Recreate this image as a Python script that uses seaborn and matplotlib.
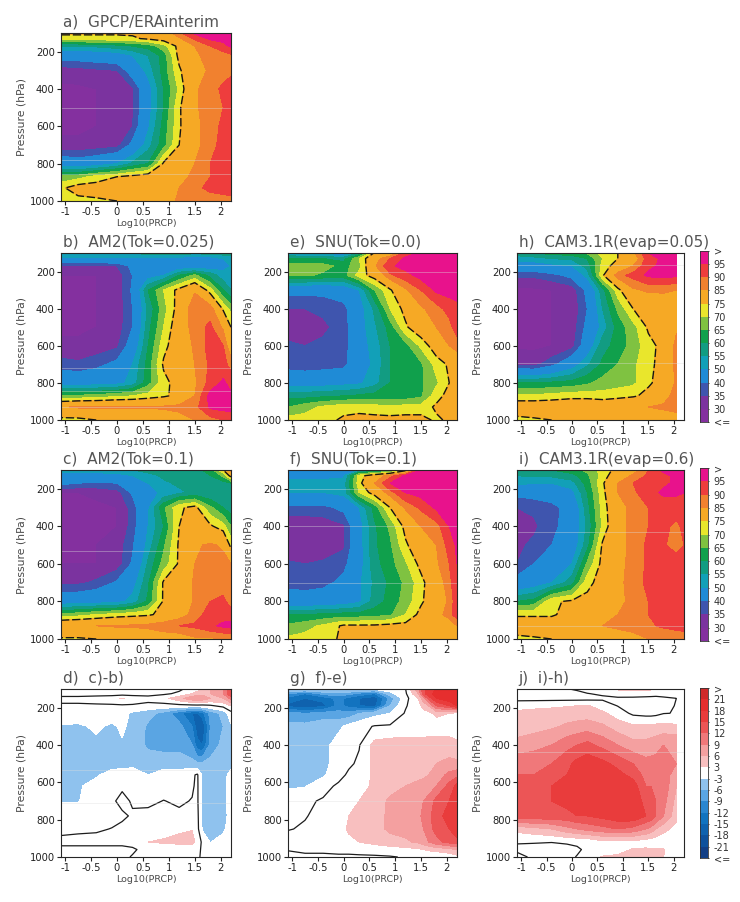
import numpy as np
import matplotlib
matplotlib.use("Agg")
import matplotlib.pyplot as plt
from matplotlib.colors import ListedColormap
import seaborn as sns

# grid of the rh panels
PRCP = [-1.08, -0.75, -0.4, 0.0, 0.3, 0.6, 0.9, 1.2, 1.5, 1.8, 2.05, 2.2]
PRES = [100, 130, 170, 220, 300, 400, 500, 600, 700, 800, 870, 930, 1000]
# grid of the difference panels
PRCP_D = [-1.08, -0.75, -0.4, -0.1, 0.1, 0.3, 0.6, 0.9, 1.2, 1.45, 1.55, 1.65, 1.8, 2.05, 2.2]
PRES_D = [100, 125, 150, 190, 230, 300, 400, 500, 560, 620, 700, 780, 850, 920, 960, 1000]

RH_A = [
    [76, 76, 76, 76, 76, 77, 80, 89, 96, 97, 97, 97],
    [73, 73, 73, 73, 74, 76, 78, 84, 91, 96, 97, 97],
    [55, 55, 56, 58, 60, 62, 68, 77, 85, 90, 93, 96],
    [44, 44, 45, 46, 50, 55, 62, 77, 84, 87, 88, 89],
    [32, 33, 34, 35, 44, 52, 62, 74, 82, 86, 88, 89],
    [29, 29, 30, 31, 34, 47, 60, 71, 84, 88, 91, 92],
    [29, 29, 30, 31, 34, 47, 60, 74, 84, 88, 90, 92],
    [29, 29, 30, 31, 35, 49, 62, 74, 83, 88, 91, 92],
    [31, 31, 32, 33, 42, 53, 63, 75, 83, 88, 92, 93],
    [46, 44, 46, 50, 56, 60, 76, 79, 85, 90, 92, 93],
    [66, 68, 72, 75, 77, 79, 80, 82, 87, 90, 92, 92],
    [74, 78, 78, 79, 79, 80, 82, 85, 89, 91, 92, 93],
    [72, 73, 74, 75, 76, 78, 82, 86, 87, 88, 88, 88],
]
RH_B = [
    [56, 56, 56, 56, 56, 57, 57, 57, 57, 57, 58, 58],
    [48, 48, 48, 48, 48, 48, 48, 48, 45, 47, 50, 52],
    [34, 34, 34, 35, 42, 44, 45, 45, 43, 46, 48, 50],
    [30, 30, 30, 32, 40, 47, 50, 60, 66, 58, 52, 54],
    [29, 29, 30, 32, 41, 60, 70, 77, 84, 72, 60, 55],
    [29, 29, 30, 31, 40, 56, 68, 78, 90, 88, 74, 68],
    [29, 29, 30, 32, 40, 58, 70, 80, 88, 91, 84, 75],
    [31, 31, 32, 34, 44, 60, 73, 80, 86, 92, 90, 80],
    [37, 36, 38, 42, 50, 62, 76, 80, 85, 91, 92, 88],
    [47, 46, 47, 48, 52, 63, 73, 78, 84, 92, 96, 93],
    [66, 66, 67, 69, 70, 72, 74, 77, 85, 97, 97, 96],
    [84, 86, 86, 86, 86, 86, 86, 87, 88, 96, 97, 98],
    [73, 73, 75, 76, 78, 78, 80, 82, 85, 88, 90, 90],
]
RH_C = [
    [52, 52, 52, 53, 55, 57, 58, 58, 58, 62, 75, 88],
    [48, 48, 48, 48, 50, 53, 56, 58, 58, 60, 66, 78],
    [42, 40, 39, 40, 48, 50, 54, 56, 56, 56, 58, 60],
    [30, 30, 31, 33, 41, 48, 51, 54, 56, 55, 55, 55],
    [29, 29, 29, 30, 37, 49, 64, 74, 77, 66, 60, 57],
    [29, 29, 29, 30, 37, 50, 60, 75, 79, 76, 72, 65],
    [29, 29, 30, 32, 39, 52, 64, 76, 84, 86, 84, 73],
    [30, 30, 30, 32, 41, 56, 67, 76, 85, 87, 87, 85],
    [34, 34, 36, 41, 47, 59, 76, 79, 86, 87, 88, 88],
    [46, 46, 47, 48, 52, 61, 76, 79, 86, 90, 91, 88],
    [66, 68, 70, 72, 73, 74, 77, 82, 87, 93, 93, 92],
    [84, 84, 85, 86, 86, 87, 89, 90, 91, 94, 96, 97],
    [74, 74, 75, 76, 77, 78, 80, 81, 84, 84, 85, 85],
]
RH_E = [
    [50, 48, 45, 45, 55, 76, 78, 92, 96, 97, 98, 98],
    [60, 60, 60, 58, 70, 82, 90, 96, 97, 98, 98, 98],
    [68, 68, 67, 63, 68, 84, 94, 97, 98, 98, 98, 98],
    [66, 66, 64, 63, 72, 78, 89, 93, 97, 98, 98, 98],
    [42, 42, 42, 44, 50, 65, 74, 84, 90, 96, 97, 98],
    [35, 35, 36, 38, 47, 56, 70, 77, 84, 88, 92, 93],
    [32, 32, 34, 37, 47, 54, 62, 74, 80, 85, 88, 93],
    [36, 35, 36, 37, 47, 52, 60, 63, 71, 79, 85, 87],
    [37, 36, 37, 38, 47, 51, 60, 62, 64, 72, 76, 80],
    [47, 47, 47, 48, 49, 53, 60, 62, 64, 69, 75, 78],
    [58, 58, 59, 60, 61, 62, 62, 62, 64, 73, 77, 80],
    [65, 68, 71, 73, 73, 72, 71, 72, 72, 76, 79, 80],
    [72, 72, 73, 76, 77, 77, 77, 77, 77, 74, 76, 78],
]
RH_F = [
    [45, 45, 45, 45, 50, 53, 57, 72, 95, 97, 98, 98],
    [48, 48, 48, 49, 72, 80, 88, 96, 97, 98, 98, 98],
    [52, 52, 52, 52, 73, 85, 95, 97, 98, 98, 98, 98],
    [50, 50, 50, 52, 70, 78, 88, 95, 97, 98, 98, 98],
    [38, 38, 38, 42, 50, 62, 75, 86, 91, 96, 97, 98],
    [31, 31, 32, 34, 47, 59, 66, 77, 85, 88, 95, 97],
    [30, 30, 31, 34, 47, 59, 64, 74, 80, 85, 92, 96],
    [36, 35, 36, 38, 47, 58, 63, 69, 77, 84, 90, 95],
    [38, 37, 38, 42, 49, 56, 61, 66, 73, 81, 88, 95],
    [44, 44, 45, 46, 49, 57, 62, 67, 74, 80, 86, 94],
    [60, 60, 61, 62, 62, 63, 64, 70, 77, 82, 88, 93],
    [66, 68, 71, 76, 76, 76, 77, 77, 78, 78, 80, 85],
    [71, 72, 73, 76, 77, 77, 77, 77, 77, 78, 78, 78],
]
RH_H = [
    [58, 60, 62, 63, 66, 72, 75, 84, 95, 96, 96],
    [52, 53, 55, 56, 60, 70, 75, 80, 93, 96, 97],
    [46, 46, 48, 50, 57, 72, 78, 85, 94, 96, 96],
    [36, 36, 38, 42, 52, 74, 88, 92, 96, 97, 96],
    [29, 29, 30, 32, 42, 58, 73, 84, 86, 86, 85],
    [29, 29, 30, 31, 40, 55, 66, 75, 78, 80, 82],
    [29, 29, 30, 32, 42, 52, 62, 68, 76, 80, 84],
    [29, 29, 30, 33, 45, 58, 62, 67, 73, 77, 87],
    [34, 33, 38, 46, 54, 61, 65, 69, 73, 78, 87],
    [60, 60, 61, 62, 64, 67, 68, 69, 74, 78, 86],
    [71, 71, 72, 73, 73, 72, 73, 74, 77, 80, 90],
    [80, 80, 80, 81, 81, 81, 82, 85, 85, 87, 90],
    [73, 74, 75, 77, 77, 77, 77, 78, 78, 78, 78],
]
RH_I = [
    [58, 60, 60, 63, 66, 72, 77, 82, 90, 96, 96, 96],
    [55, 56, 56, 58, 64, 72, 80, 86, 91, 94, 96, 96],
    [52, 50, 50, 53, 62, 74, 85, 90, 93, 94, 96, 96],
    [42, 43, 44, 48, 60, 73, 85, 89, 93, 96, 96, 95],
    [35, 36, 38, 43, 58, 72, 82, 87, 90, 92, 92, 91],
    [31, 34, 38, 44, 56, 71, 82, 87, 90, 91, 89, 91],
    [34, 36, 40, 45, 58, 76, 82, 87, 91, 91, 86, 90],
    [35, 40, 44, 50, 66, 77, 83, 87, 91, 92, 95, 93],
    [43, 46, 50, 58, 73, 78, 83, 88, 91, 92, 93, 92],
    [60, 62, 74, 76, 77, 79, 83, 87, 90, 91, 91, 91],
    [74, 74, 74, 78, 79, 81, 85, 88, 90, 91, 91, 90],
    [80, 80, 80, 81, 82, 85, 87, 88, 89, 91, 92, 93],
    [73, 74, 75, 76, 77, 78, 79, 82, 85, 85, 86, 86],
]
DIFF_D = [
    [-3.5, -3.5, -3.5, -3.5, -3.2, -3, -2, -1, -.5, 1, 2, 3, 6, 9, 14],
    [-1.5, -1.5, -1.5, -1.5, -1.5, -1.5, -1, -.5, .5, 3, 4, 5, 6, 9, 15],
    [1, 1, 1.5, 2, 3.3, 2.2, 1, 2, 5, 8, 9, 8, 6, 6, 10],
    [-.5, -.5, -.5, -.5, -.5, -.5, -.8, -1, -1, -1, -1, -1, -.5, 1, 3],
    [-1, -1, -1, -1.5, -2, -3.5, -5, -7, -11, -15, -15, -13, -8, -5, -1],
    [-3.3, -3.5, -2.5, -3.5, -2.5, -3.8, -6.5, -7, -8, -12, -17, -18, -9, -6, -3.5],
    [-3.5, -3.8, -3.6, -3.3, -3.3, -4.5, -6.5, -7, -7, -9, -14, -15, -8, -5, -3.5],
    [-4.5, -4.5, -4.5, -4.5, -4.5, -4, -4.5, -4.5, -4.5, -5, -5.5, -5.5, -5, -4.5, -4],
    [-3.8, -4, -3.5, -1.5, -1.2, -1.2, -3, -1.5, -1.5, -.5, .4, -3.5, -4, -4, -2],
    [-3.7, -3.5, -1.5, -.5, -.3, -.5, -.8, -.8, -.8, -.3, .5, -3.5, -4, -4, -1.5],
    [-3.3, -3.2, -1, -.3, .5, -.2, -.4, .05, -.3, .1, .5, -3.6, -4, -4, -1.5],
    [-.5, -.5, -.5, -.5, -.3, .2, .5, .8, .4, .6, .8, -3.6, -4, -4, -2],
    [-.5, -.3, -.2, .05, .4, .6, 1, 1.5, 2.4, 2.8, 1, -3.4, -4, -4, -.5],
    [.5, .5, .5, .5, .5, .5, 3, 3.5, 4, 4.5, 1.5, -.5, -3.2, -1, -.3],
    [-.5, -.5, -.5, -.5, -.5, -.2, .5, .5, .5, .5, .5, -.3, -.5, -.5, -.3],
    [-.5, -.5, -.5, -.5, -.3, .1, .3, .3, .5, .8, .3, -.3, -.3, -.3, -.3],
]
DIFF_G = [
    [-2, -2, -2, -2, -2, -2, -2, -1.5, -.1, 8, 14, 16, 18, 20, 20],
    [-9, -12, -8, -7, -8, -10, -12, -4, -.5, 6, 14, 17, 19, 21, 21],
    [-13, -15, -14, -11, -13, -15, -17, -8, -1, 3, 8, 13, 18, 20, 21],
    [-16, -17, -16, -11, -13, -15, -16, -6, -.3, 2, 4, 6, 12, 15, 18],
    [-8, -9, -8, -8, -8, -6, -4, -3, .3, 1.5, 2, 2, 4, 3, 2],
    [-5, -5, -4, -3.8, -2, -1, .2, .4, .8, .8, .8, .8, .8, .5, 0],
    [-5, -5, -4.2, -1.5, -.8, -.2, 4, 4.5, 4.5, 4.5, 4.5, 4.8, 5, 5, 4],
    [-5, -5, -4, -1.5, -.5, .5, 4, 4.5, 4.6, 5, 5, 5.5, 6, 6.5, 6.5],
    [-5, -4.5, -3.5, -1, .5, 1.5, 3.5, 4.5, 5, 5.5, 5.5, 6, 7, 10, 11],
    [-3.5, -3.2, -1, .5, 1, 2, 3.5, 5, 6, 6.5, 7, 7.5, 9, 13, 16],
    [-1, -.5, .3, 1.5, 2, 3, 4.5, 6.5, 7.5, 8, 9, 10, 13, 15, 18],
    [-.5, -.1, .5, 2.3, 3, 3.5, 5, 6.5, 7, 8, 10, 11, 14, 16, 18],
    [-.1, .2, 1, 2, 3.3, 4, 5, 6.5, 7, 8, 9, 11, 13, 15, 17],
    [.8, 1, 1.5, 2, 2.5, 3, 4, 5, 5.5, 6.5, 7.5, 9, 11, 13, 14],
    [.1, .5, .5, .5, .5, .7, 1, 1.5, 2, 2.5, 3, 3.5, 4, 5, 6],
    [-.5, -.5, -.5, -.3, -.3, -.3, -.3, -.2, .2, .5, .5, .5, .5, 1, 2],
]
DIFF_J = [
    [-1, -1, -1, -.1, .3, 1, 2, 3.5, 4, 4, 3.5, 3, 1.5, .3],
    [-1, -1, -1, -1, -.6, -.1, .4, 1, 1.5, 1.2, 1, .8, .5, .2],
    [-1, -1, -1, -1, -1, -1, -.5, -.3, -.5, -.6, -.6, -.6, -.2, 0],
    [2, 2.2, 2.5, 2.8, 3, 3.3, 1.5, -.1, -1, -1, -1, -1, -.5, .1],
    [3.6, 4, 4.2, 4.5, 4.5, 4.5, 3.6, 1.5, -.6, -1, -1, -.8, -.1, .1],
    [4.5, 4.8, 5.5, 6.5, 7, 7.5, 6.5, 4.5, 3.5, 3.6, 3.6, 3.8, 4, 3.5],
    [7, 8, 9, 11, 12, 13, 11, 9, 7, 7, 7.5, 8, 9, 9],
    [11, 11, 12, 14, 16, 17, 16, 14, 12, 10, 10, 10, 10, 9],
    [12, 12, 13, 15, 16, 17, 17, 16, 14, 11, 11, 11, 11, 7],
    [14, 14, 15, 16, 16, 17, 18, 18, 16.5, 12, 12, 12, 11, 6],
    [15, 15, 15, 16, 16, 16.5, 17, 17, 17, 14, 13, 12, 10, 5],
    [14, 14, 14, 14, 15, 15, 16, 17, 17.5, 15, 14, 12, 9, 4],
    [4, 5, 6, 8, 9, 10, 11, 12, 11, 9, 8, 6, 4, 2],
    [.1, .1, .05, .3, .4, .5, 2, 2, 2, 1.5, 1, 1, .8, .3],
    [-.3, -.5, -.8, -.8, -.3, .4, .8, 2, 3.2, 3.4, 3.4, 3.4, 3.2, .5],
    [.5, -.3, -.5, -.5, .1, 1, 3.3, 3.5, 3.5, 3.5, 3.5, 3.2, 3, .5],
]

RH_LEVELS = [30, 35, 40, 50, 55, 60, 65, 70, 75, 85, 90, 95]
RH_COLORS = ["#84309f", "#7b339f", "#3f55ae", "#1f8bd6", "#12a0b8", "#129c82", "#10a04c",
             "#7fc241", "#e9e62c", "#f6a925", "#f1812f", "#ee3d3d", "#e8128c"]
RH_LABELS = ["<=", "30", "35", "40", "50", "55", "60", "65", "70", "75", "85", "90", "95", ">"]
DIFF_LEVELS = [-21, -18, -15, -12, -9, -6, -3, 3, 6, 9, 12, 15, 18, 21]
DIFF_COLORS = ["#123f86", "#0e519c", "#0f62ae", "#1273bf", "#2a86d0", "#5aa5e3", "#8fc2ee",
               "#ffffff", "#f8bfbf", "#f4a0a0", "#f0787a", "#ec5556", "#e93c3c", "#e62e2e", "#cf2a2a"]
DIFF_LABELS = ["<=", "-21", "-18", "-15", "-12", "-9", "-6", "-3", "3", "6", "9", "12", "15", "18", "21", ">"]

# pale scan streaks seen across some panels
STREAKS_A = [500, 780, 855]
STREAKS_B = [720, 845, 930]
STREAKS_C = [530]
STREAKS_E = [200]
STREAKS_F = [200, 400, 700]
STREAKS_H = [165, 695]
STREAKS_I = [430, 930]
STREAKS_D = [535, 710]
STREAKS_G = [400, 700]
STREAKS_J = [435]

GRAY = "#4a4a4a"
W, H = 740, 902

sns.set_theme(style="ticks")
plt.rcParams["font.family"] = ["DejaVu Sans"]
plt.rcParams["axes.linewidth"] = 0.8


def px_axes(fig, left, top, right, bottom):
    return fig.add_axes([left / W, 1 - bottom / H, (right - left) / W, (bottom - top) / H])


def draw_panel(fig, box, title, values, streaks, diff=False):
    ax = px_axes(fig, *box)
    z = np.array(values, dtype=float)
    if diff:
        x, y, levels, colors = PRCP_D[:z.shape[1]], PRES_D, DIFF_LEVELS, DIFF_COLORS
    else:
        x, y, levels, colors = PRCP[:z.shape[1]], PRES, RH_LEVELS, RH_COLORS
    ax.contourf(x, y, z, levels=levels, colors=colors, extend="both")
    if diff:
        ax.contour(x, y, z, levels=[0], colors="#1c1c1c", linewidths=0.9)
    else:
        ax.contour(x, y, z, levels=[75], colors="#151515", linewidths=1.0, linestyles=[(0, (6, 2))])
    for p in streaks:
        ax.axhline(p, color="#dddddd", lw=0.6, alpha=0.45)
    ax.set_xlim(-1.08, 2.2)
    ax.set_ylim(1000, 100)
    ax.set_xticks([-1, -0.5, 0, 0.5, 1, 1.5, 2])
    ax.set_xticklabels(["-1", "-0.5", "0", "0.5", "1", "1.5", "2"])
    ax.set_yticks([200, 400, 600, 800, 1000])
    ax.tick_params(labelsize=7.2, length=3, width=0.8, pad=1.5, colors="#222222")
    ax.set_xlabel("Log10(PRCP)", fontsize=6.8, color=GRAY, labelpad=1)
    ax.set_ylabel("Pressure (hPa)", fontsize=7.8, color=GRAY, labelpad=2)
    ax.set_title(title, loc="left", fontsize=11, color="#555555", pad=4.5, x=0.01)
    return ax


def draw_bar(fig, box, colors, labels):
    cax = px_axes(fig, *box)
    bands = np.arange(len(colors))[::-1].reshape(-1, 1)
    sns.heatmap(bands, ax=cax, cmap=ListedColormap(colors), cbar=False, xticklabels=False,
                yticklabels=False, linewidths=0)
    cax.set_yticks(np.arange(len(labels)))
    cax.set_yticklabels(labels[::-1], rotation=0, fontsize=7, color="#333333")
    cax.tick_params(axis="y", left=False, right=True, labelleft=False, labelright=True,
                    length=1, width=0.6, pad=3)
    for side in cax.spines.values():
        side.set_visible(True)
        side.set_linewidth(0.6)
        side.set_color("#333333")


fig = plt.figure(figsize=(W / 100, H / 100), dpi=100)

COL1, COL2, COL3 = (61, 231), (288, 457), (517, 684)
ROW1, ROW2, ROW3, ROW4 = (33, 201), (253, 420), (470, 639), (689, 857)

panels = [
    ("a)  GPCP/ERAinterim", COL1, ROW1, RH_A, STREAKS_A, False),
    ("b)  AM2(Tok=0.025)", COL1, ROW2, RH_B, STREAKS_B, False),
    ("e)  SNU(Tok=0.0)", COL2, ROW2, RH_E, STREAKS_E, False),
    ("h)  CAM3.1R(evap=0.05)", COL3, ROW2, RH_H, STREAKS_H, False),
    ("c)  AM2(Tok=0.1)", COL1, ROW3, RH_C, STREAKS_C, False),
    ("f)  SNU(Tok=0.1)", COL2, ROW3, RH_F, STREAKS_F, False),
    ("i)  CAM3.1R(evap=0.6)", COL3, ROW3, RH_I, STREAKS_I, False),
    ("d)  c)-b)", COL1, ROW4, DIFF_D, STREAKS_D, True),
    ("g)  f)-e)", COL2, ROW4, DIFF_G, STREAKS_G, True),
    ("j)  i)-h)", COL3, ROW4, DIFF_J, STREAKS_J, True),
]
for title, col, row, values, streaks, diff in panels:
    draw_panel(fig, (col[0], row[0], col[1], row[1]), title, values, streaks, diff)

draw_bar(fig, (700, 251, 708, 422), RH_COLORS, RH_LABELS)
draw_bar(fig, (700, 468, 708, 641), RH_COLORS, RH_LABELS)
draw_bar(fig, (700, 688, 708, 858), DIFF_COLORS, DIFF_LABELS)

fig.savefig("out.png", dpi=100)
